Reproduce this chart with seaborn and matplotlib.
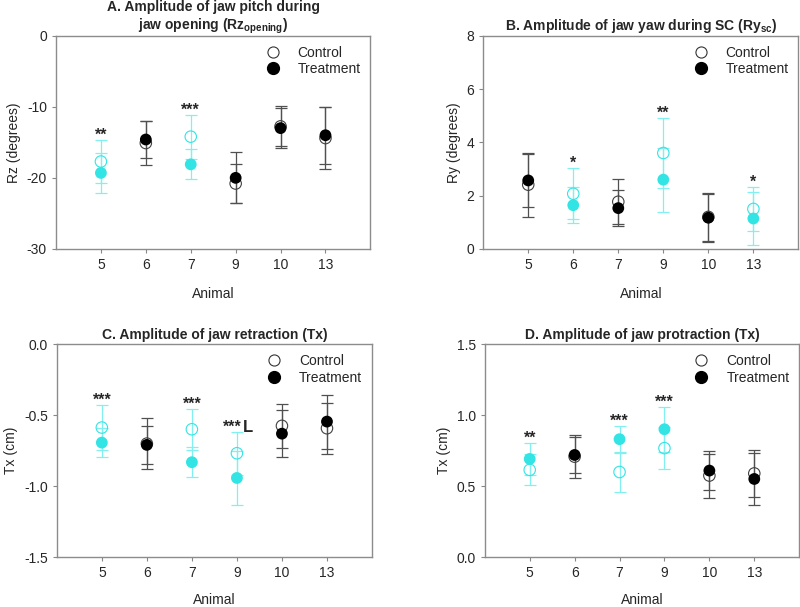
import numpy as np
import pandas as pd
import seaborn as sns
import matplotlib
matplotlib.use('Agg')
import matplotlib.pyplot as plt
from matplotlib.lines import Line2D

# animals on the x axis
animals = ['5', '6', '7', '9', '10', '13']

# A. jaw pitch during opening (Rz, degrees)
rz_ctrl = [-17.7, -15.1, -14.2, -20.8, -12.75, -14.4]
rz_ctrl_sd = [3.0, 3.1, 3.1, 2.8, 2.8, 4.4]
rz_trt = [-19.3, -14.6, -18.1, -20.0, -13.0, -14.0]
rz_trt_sd = [2.8, 2.6, 2.1, 3.6, 2.8, 4.0]
rz_stars = ['**', '', '***', '', '', '']

# B. jaw yaw during SC (Ry, degrees)
ry_ctrl = [2.41, 2.07, 1.77, 3.6, 1.2, 1.5]
ry_ctrl_sd = [1.2, 0.95, 0.85, 1.3, 0.9, 0.82]
ry_trt = [2.57, 1.64, 1.53, 2.6, 1.17, 1.14]
ry_trt_sd = [1.0, 0.67, 0.69, 1.2, 0.9, 1.0]
ry_stars = ['', '*', '', '**', '', '*']

# C. jaw retraction (Tx, cm)
ret_ctrl = [-0.587, -0.70, -0.599, -0.768, -0.575, -0.592]
ret_ctrl_sd = [0.157, 0.18, 0.145, 0.15, 0.155, 0.18]
ret_trt = [-0.693, -0.709, -0.831, -0.942, -0.63, -0.545]
ret_trt_sd = [0.10, 0.135, 0.105, 0.19, 0.165, 0.19]
ret_stars = ['***', '', '***', '***L', '', '']

# D. jaw protraction (Tx, cm)
pro_ctrl = [0.615, 0.708, 0.60, 0.768, 0.575, 0.59]
pro_ctrl_sd = [0.11, 0.15, 0.14, 0.15, 0.155, 0.165]
pro_trt = [0.692, 0.72, 0.831, 0.901, 0.61, 0.551]
pro_trt_sd = [0.11, 0.125, 0.094, 0.16, 0.14, 0.18]
pro_stars = ['**', '', '***', '***', '', '']

CYAN = '#33e4e4'
CYAN_BAR = '#80f0f0'
BLACK = '#000000'
GREY_BAR = '#505050'

sns.set_style('ticks')
plt.rcParams['font.family'] = ['Liberation Sans', 'DejaVu Sans']
plt.rcParams['axes.unicode_minus'] = False
plt.rcParams['mathtext.fontset'] = 'custom'
plt.rcParams['mathtext.rm'] = 'Liberation Sans'
plt.rcParams['mathtext.bf'] = 'Liberation Sans:bold'


def panel(ax, ctrl, ctrl_sd, trt, trt_sd, stars, title, ylabel, ylim, yticks, yfmt, xpad):
    df = pd.DataFrame({'animal': animals, 'ctrl': ctrl, 'ctrl_sd': ctrl_sd,
                       'trt': trt, 'trt_sd': trt_sd, 'stars': stars})
    df['sig'] = df['stars'] != ''

    # error bars (control first, then treatment)
    for col, sd in [('ctrl', 'ctrl_sd'), ('trt', 'trt_sd')]:
        for _, r in df.iterrows():
            c = CYAN_BAR if r['sig'] else GREY_BAR
            ax.errorbar([r['animal']], [r[col]], yerr=[r[sd]], fmt='none',
                        ecolor=c, elinewidth=0.9, capsize=4, capthick=0.9, zorder=2)

    pal = {True: CYAN, False: BLACK}
    sns.scatterplot(data=df, x='animal', y='ctrl', hue='sig', palette=pal,
                    s=68, ax=ax, legend=False, zorder=3)
    coll = ax.collections[-1]
    fc = coll.get_facecolors()
    fc[:, :3] = np.where(fc[:, :3] < 0.1, 0.25, fc[:, :3])
    coll.set_edgecolors(fc)
    coll.set_facecolors('none')
    coll.set_linewidth(0.8)
    sns.scatterplot(data=df, x='animal', y='trt', hue='sig', palette=pal,
                    s=72, ax=ax, legend=False, zorder=4, edgecolor='none')

    for _, r in df.iterrows():
        if not r['stars']:
            continue
        top = max(r['ctrl'] + r['ctrl_sd'], r['trt'] + r['trt_sd'])
        if r['stars'].endswith('L'):
            ax.annotate('***', (r['animal'], top), xytext=(-3, -2), textcoords='offset points',
                        ha='center', va='bottom', fontsize=11.5, fontweight='bold')
            ax.annotate('L', (r['animal'], top), xytext=(4, 0), textcoords='offset points',
                        ha='left', va='baseline', fontsize=12, fontweight='bold')
        else:
            ax.annotate(r['stars'], (r['animal'], top), xytext=(0, -2), textcoords='offset points',
                        ha='center', va='bottom', fontsize=11.5, fontweight='bold')

    ax.set_xlim(-1, len(animals))
    ax.set_ylim(*ylim)
    ax.set_yticks(yticks)
    ax.set_yticklabels([yfmt.format(v) for v in yticks])
    ax.set_title(title, fontsize=10, fontweight='bold', pad=4)
    ax.set_xlabel('Animal', fontsize=10, labelpad=xpad)
    ax.set_ylabel(ylabel, fontsize=10)
    ax.tick_params(labelsize=10, length=3, width=0.8, color='#888888', direction='out',
                   bottom=True, left=True)
    for s in ax.spines.values():
        s.set_color('#8c8c8c')
        s.set_linewidth(1.0)

    handles = [Line2D([], [], ls='none', marker='o', ms=8, mfc='none', mec='#333333', mew=0.8),
               Line2D([], [], ls='none', marker='o', ms=8.5, mfc='black', mec='black')]
    ax.legend(handles, ['Control', 'Treatment'], loc='upper right', frameon=False,
              fontsize=10, handlelength=1, handletextpad=1.3, labelspacing=0.2,
              borderaxespad=0.3)


fig = plt.figure(figsize=(8, 6.07), dpi=100)
axA = fig.add_axes([0.070, 0.590, 0.393, 0.351])
axB = fig.add_axes([0.604, 0.590, 0.394, 0.351])
axC = fig.add_axes([0.071, 0.082, 0.394, 0.351])
axD = fig.add_axes([0.606, 0.082, 0.393, 0.351])

panel(axA, rz_ctrl, rz_ctrl_sd, rz_trt, rz_trt_sd, rz_stars,
      'A. Amplitude of jaw pitch during\njaw opening (Rz$_{\\mathbf{opening}}$)',
      'Rz (degrees)', (-30, 0), [-30, -20, -10, 0], '{:.0f}', 11)
panel(axB, ry_ctrl, ry_ctrl_sd, ry_trt, ry_trt_sd, ry_stars,
      'B. Amplitude of jaw yaw during SC (Ry$_{\\mathbf{sc}}$)',
      'Ry (degrees)', (0, 8), [0, 2, 4, 6, 8], '{:.0f}', 11)
panel(axC, ret_ctrl, ret_ctrl_sd, ret_trt, ret_trt_sd, ret_stars,
      'C. Amplitude of jaw retraction (Tx)',
      'Tx (cm)', (-1.5, 0), [-1.5, -1.0, -0.5, 0.0], '{:.1f}', 9)
panel(axD, pro_ctrl, pro_ctrl_sd, pro_trt, pro_trt_sd, pro_stars,
      'D. Amplitude of jaw protraction (Tx)',
      'Tx (cm)', (0, 1.5), [0.0, 0.5, 1.0, 1.5], '{:.1f}', 9)

fig.savefig('out.png', dpi=100)
